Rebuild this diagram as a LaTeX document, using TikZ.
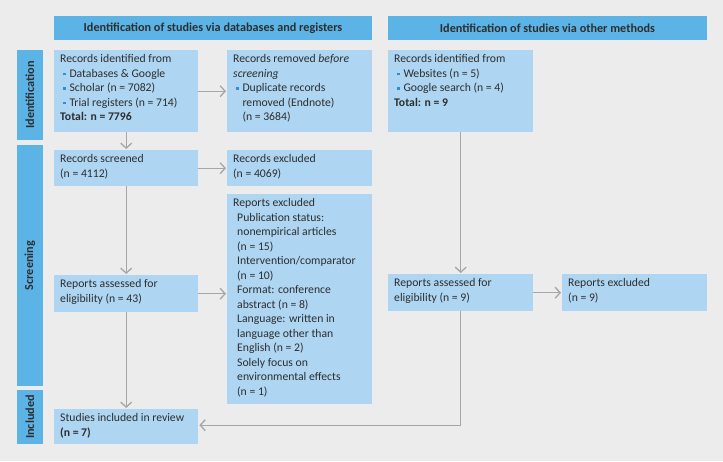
\documentclass[tikz,border=0pt]{standalone}
\usepackage{fontspec}
\setmainfont{Carlito}
\usetikzlibrary{arrows.meta}
\definecolor{bg}{HTML}{ECECEC}
\definecolor{hdr}{HTML}{5BB3E6}
\definecolor{bx}{HTML}{AED5F2}
\definecolor{txt}{HTML}{2E2E2E}
\definecolor{arr}{HTML}{A6A6A6}
\definecolor{bulc}{HTML}{2A8FD8}
\newcommand{\pbul}{\hspace*{3pt}\textcolor{bulc}{\rule[2pt]{2.8pt}{2.8pt}}\hspace{3.5pt}}
\newcommand{\pind}{\hspace*{9.3pt}}
\newcommand{\bt}[3]{\parbox[c][#2pt][t]{\dimexpr#1pt-12pt\relax}{\fontsize{11.7}{14.5}\selectfont\vspace*{2.5pt}\strut#3}}
\begin{document}
\begin{tikzpicture}[x=1pt,y=-1pt,
  box/.style={fill=bx,anchor=north west,inner xsep=6pt,inner ysep=0pt,text=txt,align=left},
  hdrbox/.style={fill=hdr,inner sep=0pt,text=txt,font=\fontsize{12.2}{14}\selectfont\bfseries},
  side/.style={fill=hdr,inner sep=0pt,rotate=90,text=txt,minimum height=26pt,font=\fontsize{12.2}{14}\selectfont\bfseries},
  arrow/.style={draw=arr,line width=1.3pt,-{Straight Barb[length=5pt,width=11pt]},shorten >=1pt}]
\fill[bg] (0,0) rectangle (723,461);
\useasboundingbox (0,0) rectangle (723,461);
% headers
\node[hdrbox,minimum width=318pt,minimum height=24pt] (h1) at (213,28) {Identification of studies via databases and registers};
\node[hdrbox,minimum width=319pt,minimum height=24pt] (h2) at (547.5,28) {Identification of studies via other methods};
% side labels
\node[side,minimum width=90pt] (sid) at (30,95) {Identification};
\node[side,minimum width=241pt] (sscr) at (30,265.5) {Screening};
\node[side,minimum width=54pt] (sinc) at (30,417) {Included};
% boxes
\node[box] (recid) at (54,50) {\bt{144}{82}{Records identified from\\
\pbul Databases \& Google\\
\pbul Scholar (n = 7082)\\
\pbul Trial registers (n = 714)\\
\textbf{Total: n = 7796}}};
\node[box] (recrem) at (227,50) {\bt{145}{82}{Records removed \textit{before}\\
\textit{screening}\\
\pbul Duplicate records\\
\pind removed (Endnote)\\
\pind (n = 3684)}};
\node[box] (othid) at (388,50) {\bt{145}{82}{Records identified from\\
\pbul Websites (n = 5)\\
\pbul Google search (n = 4)\\
\textbf{Total: n = 9}}};
\node[box] (screened) at (54,150) {\bt{144}{36}{Records screened\\(n = 4112)}};
\node[box] (recexcl) at (227,150) {\bt{145}{36}{Records excluded\\(n = 4069)}};
\node[box] (repexcl) at (227,194) {\bt{145}{210}{Reports excluded\\
\hspace*{4pt}Publication status:\\
\hspace*{4pt}nonempirical articles\\
\hspace*{4pt}(n = 15)\\
\hspace*{4pt}Intervention/comparator\\
\hspace*{4pt}(n = 10)\\
\hspace*{4pt}Format: conference\\
\hspace*{4pt}abstract (n = 8)\\
\hspace*{4pt}Language: written in\\
\hspace*{4pt}language other than\\
\hspace*{4pt}English (n = 2)\\
\hspace*{4pt}Solely focus on\\
\hspace*{4pt}environmental effects\\
\hspace*{4pt}(n = 1)}};
\node[box] (assessed) at (54,275) {\bt{144}{37}{Reports assessed for\\eligibility (n = 43)}};
\node[box] (oassessed) at (388,274) {\bt{145}{37}{Reports assessed for\\eligibility (n = 9)}};
\node[box] (oexcl) at (562,274) {\bt{145}{37}{Reports excluded\\(n = 9)}};
\node[box] (incl) at (54,409) {\bt{144}{35}{Studies included in review\\\textbf{(n = 7)}}};
% arrows
\draw[arrow] (recid.east) -- (recrem.west);
\draw[arrow] (recid.south) -- (screened.north);
\draw[arrow] (screened.east) -- (recexcl.west);
\draw[arrow] (screened.south) -- (assessed.north);
\draw[arrow] (assessed.east) -- (assessed.east -| repexcl.west);
\draw[arrow] (assessed.south) -- (incl.north);
\draw[arrow] (othid.south) -- (oassessed.north);
\draw[arrow] (oassessed.east) -- (oexcl.west);
\draw[arrow] (oassessed.south) |- ([yshift=1.5pt]incl.east);
\end{tikzpicture}
\end{document}
